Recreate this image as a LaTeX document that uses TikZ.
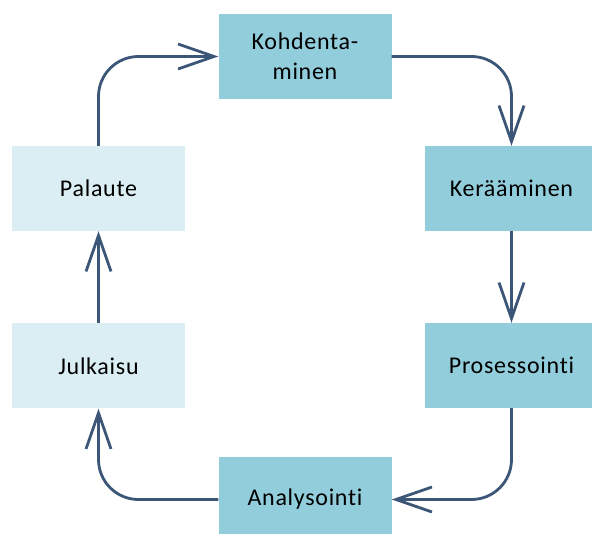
\documentclass[tikz,border=0pt]{standalone}
\usepackage{fontspec}
\setmainfont{Carlito}[RawFeature=-liga, LetterSpace=3]
\usetikzlibrary{arrows.meta}
\definecolor{boxdark}{HTML}{92CDDC}
\definecolor{boxlight}{HTML}{DAEEF3}
\definecolor{flow}{HTML}{3B5677}
\tikzset{
  stage/.style={rectangle, inner sep=0pt, minimum width=173pt, minimum height=85pt,
    align=center, font=\fontsize{24}{30}\selectfont, text=black},
  stagedark/.style={stage, fill=boxdark},
  stagelight/.style={stage, fill=boxlight},
  cycle/.style={draw=flow, line width=2.8pt, rounded corners=40pt,
    -{Straight Barb[length=36pt,width=25pt,line width=2.8pt]}}
}
\begin{document}
\begin{tikzpicture}[x=1pt,y=-1pt]
  \useasboundingbox (0,0) rectangle (592,534);
  \clip (0,0) rectangle (592,534);
  \node[stagedark]  (koh) at (305,56.5)  {Kohdenta-\\minen};
  \node[stagedark]  (ker) at (511.5,188.5) {Kerääminen};
  \node[stagedark]  (pro) at (511.5,365.5) {Prosessointi};
  \node[stagedark]  (ana) at (305,499.5) {Analysointi};
  \node[stagelight] (jul) at (98.5,366) {Julkaisu};
  \node[stagelight] (pal) at (98.5,188.5) {Palaute};
  \draw[cycle] (koh.east) -| (ker.north);
  \draw[cycle] (ker.south) -- (pro.north);
  \draw[cycle] (pro.south) |- (ana.east);
  \draw[cycle] (ana.west) -| (jul.south);
  \draw[cycle] (jul.north) -- (pal.south);
  \draw[cycle] (pal.north) |- (koh.west);
\end{tikzpicture}
\end{document}
